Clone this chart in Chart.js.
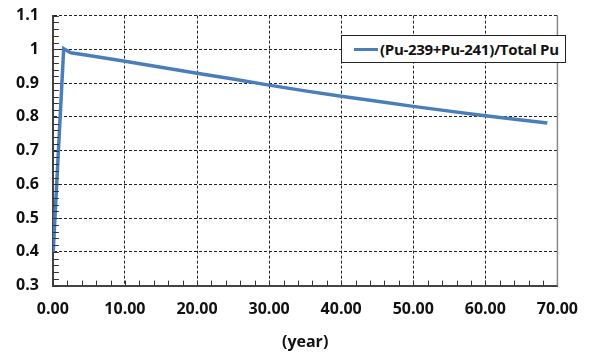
<!DOCTYPE html>
<html>
<head>
<meta charset="utf-8">
<script src="https://cdn.jsdelivr.net/npm/chart.js@4/dist/chart.umd.min.js"></script>
<style>
    html, body { margin: 0; padding: 0; background: #ffffff; overflow: hidden; }
    #wrap { position: relative; width: 592px; height: 354px; overflow: hidden; }
    #chart { position: absolute; left: 0; top: -8px; }
    #legend {
        position: absolute; left: 341px; top: 35px; width: 225px; height: 28px;
        border: 1px solid #222; background: #fff; box-sizing: border-box;
        font: bold 15px "Open Sans", sans-serif; color: #111; white-space: nowrap;
        display: flex; align-items: center; letter-spacing: -0.3px;
    }
    #legend .swatch { display: inline-block; width: 24px; height: 3px; margin: 0 2px 0 12px; }
</style>
</head>
<body>
<div id="wrap">
    <canvas id="chart" width="592" height="362"></canvas>
    <div id="legend"></div>
</div>
<script>
// time after discharge (years) and Pu fissile fraction
const years = [0.05, 1.5, 2.5, 5, 10, 15, 20, 25, 30, 35, 40, 45, 50, 55, 60, 65, 68.6];
const ratio = [0.40, 1.002, 0.99, 0.982, 0.965, 0.947, 0.929, 0.912, 0.894, 0.877, 0.861, 0.846, 0.831, 0.817, 0.803, 0.791, 0.782];
const seriesName = "(Pu-239+Pu-241)/Total Pu";
const seriesColor = "#4a7ebb";
const xTitle = "(year)";

const FONT = { family: '"Open Sans", sans-serif', size: 16, weight: 'bold' };

// small inward ticks every 2 years / 0.02
const minorTicks = {
    id: "minorTicks",
    afterDraw(chart)
    {
        const { ctx, chartArea: { left, right, bottom }, scales: { x, y } } = chart;
        ctx.save();
        ctx.strokeStyle = "#333";
        ctx.lineWidth = 1;
        ctx.beginPath();
        for (let v = 0; v <= 70; v += 2)
        {
            const px = Math.round(x.getPixelForValue(v)) + 0.5;
            ctx.moveTo(px, bottom);
            ctx.lineTo(px, bottom - 5);
        }
        for (let i = 0; i <= 40; i++)
        {
            const py = Math.round(y.getPixelForValue(0.3 + i * 0.02)) + 0.5;
            ctx.moveTo(left, py);
            ctx.lineTo(left + 6, py);
        }
        ctx.stroke();
        // solid right edge
        ctx.strokeStyle = "#888";
        ctx.lineWidth = 1.5;
        ctx.beginPath();
        ctx.moveTo(right, chart.chartArea.top);
        ctx.lineTo(right, bottom);
        ctx.stroke();
        ctx.restore();
    }
};

const chart = new Chart(document.getElementById("chart"), {
    type: 'line',
    data: {
        datasets: [{
            label: seriesName,
            data: years.map((yr, i) => ({ x: yr, y: ratio[i] })),
            borderColor: seriesColor,
            borderWidth: 3.5,
            pointRadius: 0,
            tension: 0,
            fill: false
        }]
    },
    options: {
        responsive: false,
        animation: false,
        layout: { autoPadding: false, padding: { left: 2, right: 19, top: 0, bottom: 0 } },
        plugins: {
            legend: { display: false },
            tooltip: { enabled: false }
        },
        scales: {
            x: {
                type: 'linear',
                min: 0,
                max: 70,
                grid: { color: "#222", lineWidth: 1, drawTicks: false },
                border: { color: "#444", width: 2, dash: [3, 2] },
                ticks: {
                    stepSize: 10,
                    padding: 14,
                    color: "#111",
                    font: FONT,
                    maxRotation: 0,
                    callback: v => v.toFixed(2)
                },
                title: { display: true, text: xTitle, color: "#111", font: FONT, padding: { top: 0, bottom: 2 } }
            },
            y: {
                min: 0.3,
                max: 1.1,
                grid: { color: "#222", lineWidth: 1, drawTicks: false },
                border: { color: "#444", width: 2, dash: [3, 2] },
                ticks: {
                    stepSize: 0.1,
                    padding: 14,
                    color: "#111",
                    font: FONT,
                    callback: v => Math.round(v * 10) / 10
                }
            }
        }
    },
    plugins: [minorTicks]
});

const legend = document.getElementById("legend");
for (const ds of chart.data.datasets)
{
    const sw = document.createElement("span");
    sw.className = "swatch";
    sw.style.background = ds.borderColor;
    legend.appendChild(sw);
    legend.appendChild(document.createTextNode(ds.label));
}
</script>
</body>
</html>
